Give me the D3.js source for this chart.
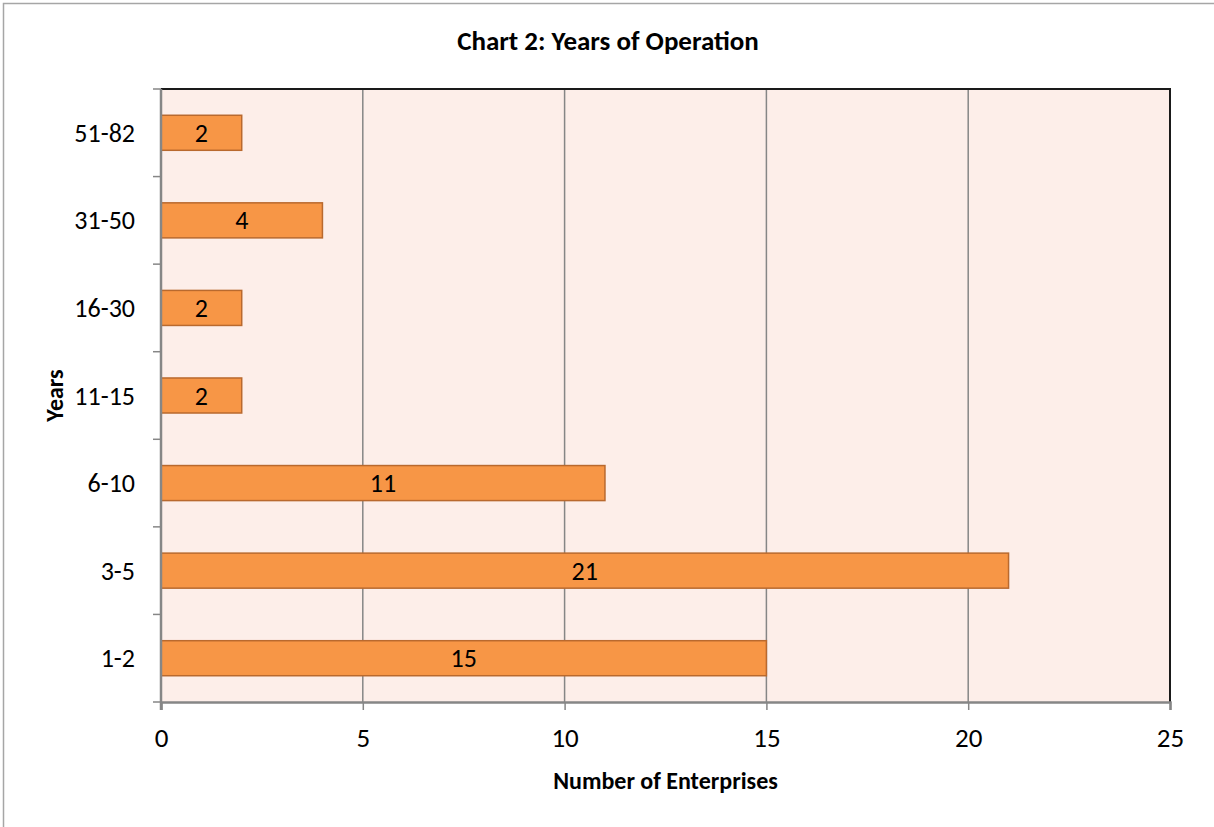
<!DOCTYPE html>
<html>
<head>
<meta charset="utf-8">
<script src="https://cdn.jsdelivr.net/npm/d3@7"></script>
<style>
  body { margin: 0; background: #fff; }
  text { font-family: Carlito, Calibri, "Open Sans", "Noto Sans", sans-serif; fill: #000; }
</style>
</head>
<body>
<div id="chart"></div>
<script>
const width = 1214;
const height = 827;
const margin = {top: 89, right: 44, bottom: 125, left: 161};

// data
const categories = ["1-2", "3-5", "6-10", "11-15", "16-30", "31-50", "51-82"];
const values = [15, 21, 11, 2, 2, 4, 2];
const xTicks = [0, 5, 10, 15, 20, 25];

const svg = d3.select("#chart")
    .append("svg")
    .attr("width", width)
    .attr("height", height);

// outer chart border
svg.append("rect")
    .attr("x", 3.5).attr("y", 3.5)
    .attr("width", width - 2.5).attr("height", height - 2.5)
    .attr("fill", "#fff")
    .attr("stroke", "#a6a6a6")
    .attr("stroke-width", 1.5);

const x = d3.scaleLinear().domain([0, 25]).range([margin.left, width - margin.right]);
const y = d3.scaleBand()
    .domain(categories.slice().reverse())
    .range([margin.top, height - margin.bottom])
    .paddingInner(0.6)
    .paddingOuter(0.3);

const plotW = x(25) - x(0);
const plotH = height - margin.bottom - margin.top;

// plot background
svg.append("rect")
    .attr("x", x(0)).attr("y", margin.top)
    .attr("width", plotW).attr("height", plotH)
    .attr("fill", "#fdeee9");

// vertical gridlines
svg.append("g")
    .selectAll("line")
    .data(xTicks.slice(1, -1))
    .join("line")
    .attr("x1", d => x(d)).attr("x2", d => x(d))
    .attr("y1", margin.top).attr("y2", height - margin.bottom)
    .attr("stroke", "#868686")
    .attr("stroke-width", 1.5);

// top and right border of plot
svg.append("path")
    .attr("d", `M${x(0)},${margin.top}H${x(25)}V${height - margin.bottom}`)
    .attr("fill", "none")
    .attr("stroke", "#1a1a1a")
    .attr("stroke-width", 2);

const rows = categories.map((c, i) => ({cat: c, val: values[i]}));

// bars
svg.append("g")
    .selectAll("rect")
    .data(rows)
    .join("rect")
    .attr("x", x(0))
    .attr("y", d => y(d.cat))
    .attr("width", d => x(d.val) - x(0))
    .attr("height", y.bandwidth())
    .attr("fill", "#f79646")
    .attr("stroke", "#b9692e")
    .attr("stroke-width", 1.5);

// data labels
svg.append("g")
    .selectAll("text")
    .data(rows)
    .join("text")
    .attr("x", d => x(d.val / 2))
    .attr("y", d => y(d.cat) + y.bandwidth() / 2)
    .attr("dy", "0.35em")
    .attr("text-anchor", "middle")
    .style("font-size", "26px")
    .text(d => d.val);

// x axis
const xAxis = d3.axisBottom(x)
    .tickValues(xTicks)
    .tickSize(8)
    .tickPadding(18);

const gx = svg.append("g")
    .attr("transform", `translate(0,${height - margin.bottom})`)
    .call(xAxis);
gx.select(".domain").attr("stroke", "#868686").attr("stroke-width", 2.5);
gx.selectAll(".tick line").attr("stroke", "#868686").attr("stroke-width", 1.5);
gx.selectAll(".tick text")
    .style("font-size", "27px")
    .style("font-family", "Carlito, Calibri, 'Open Sans', sans-serif");

// y axis: ticks at category boundaries
const boundaries = d3.range(categories.length + 1).map(i => margin.top + i * plotH / categories.length);
svg.append("g")
    .selectAll("line")
    .data(boundaries)
    .join("line")
    .attr("x1", x(0) - 8).attr("x2", x(0))
    .attr("y1", d => d).attr("y2", d => d)
    .attr("stroke", "#868686")
    .attr("stroke-width", 1.5);

svg.append("line")
    .attr("x1", x(0)).attr("x2", x(0))
    .attr("y1", margin.top).attr("y2", height - margin.bottom + 8)
    .attr("stroke", "#868686")
    .attr("stroke-width", 2.5);

svg.append("g")
    .selectAll("text")
    .data(categories)
    .join("text")
    .attr("x", x(0) - 26)
    .attr("y", d => y(d) + y.bandwidth() / 2)
    .attr("dy", "0.35em")
    .attr("text-anchor", "end")
    .style("font-size", "26px")
    .text(d => d);

// title
svg.append("text")
    .attr("x", 608).attr("y", 50)
    .attr("text-anchor", "middle")
    .style("font-size", "27px")
    .style("font-weight", "bold")
    .text("Chart 2: Years of Operation");

// axis titles
svg.append("text")
    .attr("x", (x(0) + x(25)) / 2).attr("y", 789)
    .attr("text-anchor", "middle")
    .style("font-size", "24px")
    .style("font-weight", "bold")
    .text("Number of Enterprises");

svg.append("text")
    .attr("transform", `translate(63,${margin.top + plotH / 2}) rotate(-90)`)
    .attr("text-anchor", "middle")
    .style("font-size", "24px")
    .style("font-weight", "bold")
    .text("Years");
</script>
</body>
</html>
